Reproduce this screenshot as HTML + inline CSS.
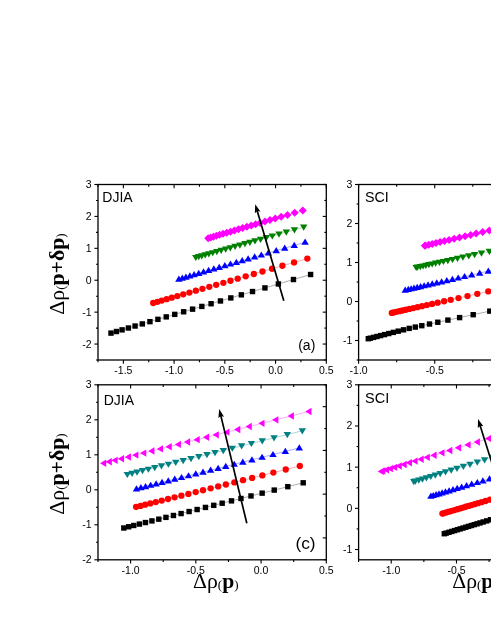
<!DOCTYPE html>
<html><head><meta charset="utf-8"><title>fig</title>
<style>
html,body{margin:0;padding:0;background:#fff;}
body{width:491px;height:635px;overflow:hidden;}
svg{display:block;will-change:transform;}
.tk{font-family:"Liberation Sans",sans-serif;font-size:10.5px;fill:#000;}
.lb{font-family:"Liberation Sans",sans-serif;font-size:14px;fill:#000;}
.ti{font-family:"Liberation Serif",serif;font-size:20.3px;fill:#000;}
.ti .b{font-weight:bold;}
.ti .pa{font-size:12.2px;}
</style></head><body>
<svg width="491" height="635" viewBox="0 0 491 635">
<rect width="491" height="635" fill="#fff"/>
<rect x="98.0" y="184.5" width="228.3" height="175.5" fill="none" stroke="#000" stroke-width="1.3"/><path d="M98.00 360.0v2.2M98.00 184.5v2.2" stroke="#000" stroke-width="1.1"/><path d="M123.37 360.0v3.8M123.37 184.5v3.8" stroke="#000" stroke-width="1.1"/><text x="123.37" y="374.2" text-anchor="middle" class="tk">-1.5</text><path d="M148.73 360.0v2.2M148.73 184.5v2.2" stroke="#000" stroke-width="1.1"/><path d="M174.10 360.0v3.8M174.10 184.5v3.8" stroke="#000" stroke-width="1.1"/><text x="174.10" y="374.2" text-anchor="middle" class="tk">-1.0</text><path d="M199.47 360.0v2.2M199.47 184.5v2.2" stroke="#000" stroke-width="1.1"/><path d="M224.83 360.0v3.8M224.83 184.5v3.8" stroke="#000" stroke-width="1.1"/><text x="224.83" y="374.2" text-anchor="middle" class="tk">-0.5</text><path d="M250.20 360.0v2.2M250.20 184.5v2.2" stroke="#000" stroke-width="1.1"/><path d="M275.57 360.0v3.8M275.57 184.5v3.8" stroke="#000" stroke-width="1.1"/><text x="275.57" y="374.2" text-anchor="middle" class="tk">0.0</text><path d="M300.93 360.0v2.2M300.93 184.5v2.2" stroke="#000" stroke-width="1.1"/><path d="M326.30 360.0v3.8M326.30 184.5v3.8" stroke="#000" stroke-width="1.1"/><text x="326.30" y="374.2" text-anchor="middle" class="tk">0.5</text><path d="M98.0 360.00h-2.0" stroke="#000" stroke-width="1.1"/><path d="M326.3 360.00h-2.0" stroke="#000" stroke-width="1.1"/><path d="M98.0 344.05h-3.6" stroke="#000" stroke-width="1.1"/><path d="M326.3 344.05h-3.6" stroke="#000" stroke-width="1.1"/><text x="91.7" y="347.55" text-anchor="end" class="tk">-2</text><path d="M98.0 328.09h-2.0" stroke="#000" stroke-width="1.1"/><path d="M326.3 328.09h-2.0" stroke="#000" stroke-width="1.1"/><path d="M98.0 312.14h-3.6" stroke="#000" stroke-width="1.1"/><path d="M326.3 312.14h-3.6" stroke="#000" stroke-width="1.1"/><text x="91.7" y="315.64" text-anchor="end" class="tk">-1</text><path d="M98.0 296.18h-2.0" stroke="#000" stroke-width="1.1"/><path d="M326.3 296.18h-2.0" stroke="#000" stroke-width="1.1"/><path d="M98.0 280.23h-3.6" stroke="#000" stroke-width="1.1"/><path d="M326.3 280.23h-3.6" stroke="#000" stroke-width="1.1"/><text x="91.7" y="283.73" text-anchor="end" class="tk">0</text><path d="M98.0 264.27h-2.0" stroke="#000" stroke-width="1.1"/><path d="M326.3 264.27h-2.0" stroke="#000" stroke-width="1.1"/><path d="M98.0 248.32h-3.6" stroke="#000" stroke-width="1.1"/><path d="M326.3 248.32h-3.6" stroke="#000" stroke-width="1.1"/><text x="91.7" y="251.82" text-anchor="end" class="tk">1</text><path d="M98.0 232.36h-2.0" stroke="#000" stroke-width="1.1"/><path d="M326.3 232.36h-2.0" stroke="#000" stroke-width="1.1"/><path d="M98.0 216.41h-3.6" stroke="#000" stroke-width="1.1"/><path d="M326.3 216.41h-3.6" stroke="#000" stroke-width="1.1"/><text x="91.7" y="219.91" text-anchor="end" class="tk">2</text><path d="M98.0 200.45h-2.0" stroke="#000" stroke-width="1.1"/><path d="M326.3 200.45h-2.0" stroke="#000" stroke-width="1.1"/><path d="M98.0 184.50h-3.6" stroke="#000" stroke-width="1.1"/><path d="M326.3 184.50h-3.6" stroke="#000" stroke-width="1.1"/><text x="91.7" y="188.00" text-anchor="end" class="tk">3</text><polyline fill="none" stroke="#000000" stroke-width="0.33" points="111.00,333.10 116.43,331.51 122.08,329.85 128.37,328.00 135.07,326.03 142.30,323.91 149.94,321.67 157.91,319.33 166.23,316.89 174.75,314.38 183.65,311.77 192.58,309.15 201.86,306.43 211.08,303.72 220.46,300.96 230.82,297.92 241.36,294.83 252.52,291.55 264.93,287.91 278.36,283.96 293.47,279.53 310.60,274.50"/><rect x="108.30" y="330.40" width="5.4" height="5.4" fill="#000000"/><rect x="113.73" y="328.81" width="5.4" height="5.4" fill="#000000"/><rect x="119.38" y="327.15" width="5.4" height="5.4" fill="#000000"/><rect x="125.67" y="325.30" width="5.4" height="5.4" fill="#000000"/><rect x="132.37" y="323.33" width="5.4" height="5.4" fill="#000000"/><rect x="139.60" y="321.21" width="5.4" height="5.4" fill="#000000"/><rect x="147.24" y="318.97" width="5.4" height="5.4" fill="#000000"/><rect x="155.21" y="316.63" width="5.4" height="5.4" fill="#000000"/><rect x="163.53" y="314.19" width="5.4" height="5.4" fill="#000000"/><rect x="172.05" y="311.68" width="5.4" height="5.4" fill="#000000"/><rect x="180.95" y="309.07" width="5.4" height="5.4" fill="#000000"/><rect x="189.88" y="306.45" width="5.4" height="5.4" fill="#000000"/><rect x="199.16" y="303.73" width="5.4" height="5.4" fill="#000000"/><rect x="208.38" y="301.02" width="5.4" height="5.4" fill="#000000"/><rect x="217.76" y="298.26" width="5.4" height="5.4" fill="#000000"/><rect x="228.12" y="295.22" width="5.4" height="5.4" fill="#000000"/><rect x="238.66" y="292.13" width="5.4" height="5.4" fill="#000000"/><rect x="249.82" y="288.85" width="5.4" height="5.4" fill="#000000"/><rect x="262.23" y="285.21" width="5.4" height="5.4" fill="#000000"/><rect x="275.66" y="281.26" width="5.4" height="5.4" fill="#000000"/><rect x="290.77" y="276.83" width="5.4" height="5.4" fill="#000000"/><rect x="307.90" y="271.80" width="5.4" height="5.4" fill="#000000"/><polyline fill="none" stroke="#ff0000" stroke-width="0.33" points="153.20,303.00 157.39,301.79 161.75,300.54 166.61,299.14 171.78,297.65 177.36,296.04 183.26,294.34 189.41,292.57 195.84,290.71 202.42,288.82 209.29,286.84 216.18,284.85 223.35,282.79 230.47,280.74 237.71,278.65 245.71,276.35 253.84,274.00 262.46,271.52 272.04,268.76 282.41,265.77 294.08,262.41 307.30,258.60"/><circle cx="153.20" cy="303.00" r="3.15" fill="#ff0000"/><circle cx="157.39" cy="301.79" r="3.15" fill="#ff0000"/><circle cx="161.75" cy="300.54" r="3.15" fill="#ff0000"/><circle cx="166.61" cy="299.14" r="3.15" fill="#ff0000"/><circle cx="171.78" cy="297.65" r="3.15" fill="#ff0000"/><circle cx="177.36" cy="296.04" r="3.15" fill="#ff0000"/><circle cx="183.26" cy="294.34" r="3.15" fill="#ff0000"/><circle cx="189.41" cy="292.57" r="3.15" fill="#ff0000"/><circle cx="195.84" cy="290.71" r="3.15" fill="#ff0000"/><circle cx="202.42" cy="288.82" r="3.15" fill="#ff0000"/><circle cx="209.29" cy="286.84" r="3.15" fill="#ff0000"/><circle cx="216.18" cy="284.85" r="3.15" fill="#ff0000"/><circle cx="223.35" cy="282.79" r="3.15" fill="#ff0000"/><circle cx="230.47" cy="280.74" r="3.15" fill="#ff0000"/><circle cx="237.71" cy="278.65" r="3.15" fill="#ff0000"/><circle cx="245.71" cy="276.35" r="3.15" fill="#ff0000"/><circle cx="253.84" cy="274.00" r="3.15" fill="#ff0000"/><circle cx="262.46" cy="271.52" r="3.15" fill="#ff0000"/><circle cx="272.04" cy="268.76" r="3.15" fill="#ff0000"/><circle cx="282.41" cy="265.77" r="3.15" fill="#ff0000"/><circle cx="294.08" cy="262.41" r="3.15" fill="#ff0000"/><circle cx="307.30" cy="258.60" r="3.15" fill="#ff0000"/><polyline fill="none" stroke="#0000ff" stroke-width="0.33" points="178.90,279.10 182.33,278.10 185.90,277.05 189.88,275.89 194.12,274.65 198.69,273.31 203.52,271.90 208.56,270.43 213.82,268.89 219.21,267.31 224.84,265.67 230.48,264.02 236.35,262.30 242.18,260.60 248.11,258.86 254.66,256.95 261.32,255.00 268.38,252.94 276.23,250.64 284.72,248.16 294.27,245.37 305.10,242.20"/><path d="M175.20 281.70L182.60 281.70L178.90 275.50Z" fill="#0000ff"/><path d="M178.63 280.70L186.03 280.70L182.33 274.50Z" fill="#0000ff"/><path d="M182.20 279.66L189.60 279.66L185.90 273.46Z" fill="#0000ff"/><path d="M186.18 278.49L193.58 278.49L189.88 272.29Z" fill="#0000ff"/><path d="M190.42 277.25L197.82 277.25L194.12 271.05Z" fill="#0000ff"/><path d="M194.99 275.92L202.39 275.92L198.69 269.72Z" fill="#0000ff"/><path d="M199.82 274.50L207.22 274.50L203.52 268.30Z" fill="#0000ff"/><path d="M204.86 273.03L212.26 273.03L208.56 266.83Z" fill="#0000ff"/><path d="M210.12 271.49L217.52 271.49L213.82 265.29Z" fill="#0000ff"/><path d="M215.51 269.92L222.91 269.92L219.21 263.72Z" fill="#0000ff"/><path d="M221.14 268.27L228.54 268.27L224.84 262.07Z" fill="#0000ff"/><path d="M226.78 266.62L234.18 266.62L230.48 260.42Z" fill="#0000ff"/><path d="M232.65 264.91L240.05 264.91L236.35 258.71Z" fill="#0000ff"/><path d="M238.48 263.20L245.88 263.20L242.18 257.00Z" fill="#0000ff"/><path d="M244.41 261.47L251.81 261.47L248.11 255.27Z" fill="#0000ff"/><path d="M250.96 259.55L258.36 259.55L254.66 253.35Z" fill="#0000ff"/><path d="M257.62 257.60L265.02 257.60L261.32 251.40Z" fill="#0000ff"/><path d="M264.68 255.54L272.08 255.54L268.38 249.34Z" fill="#0000ff"/><path d="M272.53 253.25L279.93 253.25L276.23 247.05Z" fill="#0000ff"/><path d="M281.02 250.76L288.42 250.76L284.72 244.56Z" fill="#0000ff"/><path d="M290.57 247.97L297.97 247.97L294.27 241.77Z" fill="#0000ff"/><path d="M301.40 244.80L308.80 244.80L305.10 238.60Z" fill="#0000ff"/><polyline fill="none" stroke="#008000" stroke-width="0.33" points="195.80,257.50 198.73,256.68 201.79,255.82 205.19,254.86 208.81,253.85 212.72,252.75 216.85,251.59 221.16,250.38 225.66,249.12 230.26,247.82 235.08,246.47 239.90,245.12 244.92,243.71 249.90,242.31 254.97,240.88 260.57,239.31 266.27,237.71 272.30,236.02 279.01,234.13 286.27,232.09 294.44,229.80 303.70,227.20"/><path d="M192.10 254.90L199.50 254.90L195.80 261.10Z" fill="#008000"/><path d="M195.03 254.07L202.43 254.07L198.73 260.27Z" fill="#008000"/><path d="M198.09 253.21L205.49 253.21L201.79 259.41Z" fill="#008000"/><path d="M201.49 252.26L208.89 252.26L205.19 258.46Z" fill="#008000"/><path d="M205.11 251.24L212.51 251.24L208.81 257.44Z" fill="#008000"/><path d="M209.02 250.14L216.42 250.14L212.72 256.34Z" fill="#008000"/><path d="M213.15 248.98L220.55 248.98L216.85 255.18Z" fill="#008000"/><path d="M217.46 247.78L224.86 247.78L221.16 253.98Z" fill="#008000"/><path d="M221.96 246.51L229.36 246.51L225.66 252.71Z" fill="#008000"/><path d="M226.56 245.22L233.96 245.22L230.26 251.42Z" fill="#008000"/><path d="M231.38 243.87L238.78 243.87L235.08 250.07Z" fill="#008000"/><path d="M236.20 242.51L243.60 242.51L239.90 248.71Z" fill="#008000"/><path d="M241.22 241.10L248.62 241.10L244.92 247.30Z" fill="#008000"/><path d="M246.20 239.70L253.60 239.70L249.90 245.90Z" fill="#008000"/><path d="M251.27 238.28L258.67 238.28L254.97 244.48Z" fill="#008000"/><path d="M256.87 236.71L264.27 236.71L260.57 242.91Z" fill="#008000"/><path d="M262.57 235.11L269.97 235.11L266.27 241.31Z" fill="#008000"/><path d="M268.60 233.41L276.00 233.41L272.30 239.61Z" fill="#008000"/><path d="M275.31 231.53L282.71 231.53L279.01 237.73Z" fill="#008000"/><path d="M282.57 229.49L289.97 229.49L286.27 235.69Z" fill="#008000"/><path d="M290.74 227.20L298.14 227.20L294.44 233.40Z" fill="#008000"/><path d="M300.00 224.60L307.40 224.60L303.70 230.80Z" fill="#008000"/><polyline fill="none" stroke="#ff00ff" stroke-width="0.33" points="208.20,238.20 210.77,237.44 213.45,236.66 216.43,235.78 219.61,234.85 223.03,233.84 226.66,232.78 230.43,231.67 234.38,230.51 238.42,229.32 242.63,228.08 246.86,226.84 251.26,225.55 255.63,224.26 260.08,222.95 264.99,221.51 269.98,220.04 275.27,218.49 281.16,216.76 287.52,214.89 294.68,212.79 302.80,210.40"/><path d="M204.20 238.20L208.20 234.20L212.20 238.20L208.20 242.20Z" fill="#ff00ff"/><path d="M206.77 237.44L210.77 233.44L214.77 237.44L210.77 241.44Z" fill="#ff00ff"/><path d="M209.45 236.66L213.45 232.66L217.45 236.66L213.45 240.66Z" fill="#ff00ff"/><path d="M212.43 235.78L216.43 231.78L220.43 235.78L216.43 239.78Z" fill="#ff00ff"/><path d="M215.61 234.85L219.61 230.85L223.61 234.85L219.61 238.85Z" fill="#ff00ff"/><path d="M219.03 233.84L223.03 229.84L227.03 233.84L223.03 237.84Z" fill="#ff00ff"/><path d="M222.66 232.78L226.66 228.78L230.66 232.78L226.66 236.78Z" fill="#ff00ff"/><path d="M226.43 231.67L230.43 227.67L234.43 231.67L230.43 235.67Z" fill="#ff00ff"/><path d="M230.38 230.51L234.38 226.51L238.38 230.51L234.38 234.51Z" fill="#ff00ff"/><path d="M234.42 229.32L238.42 225.32L242.42 229.32L238.42 233.32Z" fill="#ff00ff"/><path d="M238.63 228.08L242.63 224.08L246.63 228.08L242.63 232.08Z" fill="#ff00ff"/><path d="M242.86 226.84L246.86 222.84L250.86 226.84L246.86 230.84Z" fill="#ff00ff"/><path d="M247.26 225.55L251.26 221.55L255.26 225.55L251.26 229.55Z" fill="#ff00ff"/><path d="M251.63 224.26L255.63 220.26L259.63 224.26L255.63 228.26Z" fill="#ff00ff"/><path d="M256.08 222.95L260.08 218.95L264.08 222.95L260.08 226.95Z" fill="#ff00ff"/><path d="M260.99 221.51L264.99 217.51L268.99 221.51L264.99 225.51Z" fill="#ff00ff"/><path d="M265.98 220.04L269.98 216.04L273.98 220.04L269.98 224.04Z" fill="#ff00ff"/><path d="M271.27 218.49L275.27 214.49L279.27 218.49L275.27 222.49Z" fill="#ff00ff"/><path d="M277.16 216.76L281.16 212.76L285.16 216.76L281.16 220.76Z" fill="#ff00ff"/><path d="M283.52 214.89L287.52 210.89L291.52 214.89L287.52 218.89Z" fill="#ff00ff"/><path d="M290.68 212.79L294.68 208.79L298.68 212.79L294.68 216.79Z" fill="#ff00ff"/><path d="M298.80 210.40L302.80 206.40L306.80 210.40L302.80 214.40Z" fill="#ff00ff"/><path d="M283.80 300.70L257.08 210.53" stroke="#000" stroke-width="1.7" fill="none"/><path d="M255.20 204.20L260.42 211.62L257.22 211.01L254.86 213.27Z" fill="#000"/><text x="102.3" y="201.9" class="lb">DJIA</text><text x="298.2" y="349.5" class="lb">(a)</text><rect x="98.0" y="384.8" width="228.3" height="174.99999999999994" fill="none" stroke="#000" stroke-width="1.3"/><path d="M98.00 559.8v2.2M98.00 384.8v2.2" stroke="#000" stroke-width="1.1"/><path d="M130.61 559.8v3.8M130.61 384.8v3.8" stroke="#000" stroke-width="1.1"/><text x="130.61" y="574.0" text-anchor="middle" class="tk">-1.0</text><path d="M163.23 559.8v2.2M163.23 384.8v2.2" stroke="#000" stroke-width="1.1"/><path d="M195.84 559.8v3.8M195.84 384.8v3.8" stroke="#000" stroke-width="1.1"/><text x="195.84" y="574.0" text-anchor="middle" class="tk">-0.5</text><path d="M228.46 559.8v2.2M228.46 384.8v2.2" stroke="#000" stroke-width="1.1"/><path d="M261.07 559.8v3.8M261.07 384.8v3.8" stroke="#000" stroke-width="1.1"/><text x="261.07" y="574.0" text-anchor="middle" class="tk">0.0</text><path d="M293.69 559.8v2.2M293.69 384.8v2.2" stroke="#000" stroke-width="1.1"/><path d="M326.30 559.8v3.8M326.30 384.8v3.8" stroke="#000" stroke-width="1.1"/><text x="326.30" y="574.0" text-anchor="middle" class="tk">0.5</text><path d="M98.0 559.80h-3.6" stroke="#000" stroke-width="1.1"/><text x="91.7" y="563.30" text-anchor="end" class="tk">-2</text><path d="M98.0 542.30h-2.0" stroke="#000" stroke-width="1.1"/><path d="M98.0 524.80h-3.6" stroke="#000" stroke-width="1.1"/><text x="91.7" y="528.30" text-anchor="end" class="tk">-1</text><path d="M98.0 507.30h-2.0" stroke="#000" stroke-width="1.1"/><path d="M98.0 489.80h-3.6" stroke="#000" stroke-width="1.1"/><text x="91.7" y="493.30" text-anchor="end" class="tk">0</text><path d="M98.0 472.30h-2.0" stroke="#000" stroke-width="1.1"/><path d="M98.0 454.80h-3.6" stroke="#000" stroke-width="1.1"/><text x="91.7" y="458.30" text-anchor="end" class="tk">1</text><path d="M98.0 437.30h-2.0" stroke="#000" stroke-width="1.1"/><path d="M98.0 419.80h-3.6" stroke="#000" stroke-width="1.1"/><text x="91.7" y="423.30" text-anchor="end" class="tk">2</text><path d="M98.0 402.30h-2.0" stroke="#000" stroke-width="1.1"/><path d="M98.0 384.80h-3.6" stroke="#000" stroke-width="1.1"/><text x="91.7" y="388.30" text-anchor="end" class="tk">3</text><path d="M326.3 384.80h-2.0" stroke="#000" stroke-width="1.1"/><path d="M326.3 406.68h-3.6" stroke="#000" stroke-width="1.1"/><path d="M326.3 428.55h-2.0" stroke="#000" stroke-width="1.1"/><path d="M326.3 450.42h-3.6" stroke="#000" stroke-width="1.1"/><path d="M326.3 472.30h-2.0" stroke="#000" stroke-width="1.1"/><path d="M326.3 494.17h-3.6" stroke="#000" stroke-width="1.1"/><path d="M326.3 516.05h-2.0" stroke="#000" stroke-width="1.1"/><path d="M326.3 537.92h-3.6" stroke="#000" stroke-width="1.1"/><path d="M326.3 559.80h-2.0" stroke="#000" stroke-width="1.1"/><polyline fill="none" stroke="#000000" stroke-width="0.33" points="123.80,528.00 128.68,526.77 133.76,525.49 139.41,524.07 145.44,522.55 151.93,520.91 158.80,519.18 165.96,517.38 173.44,515.49 181.10,513.56 189.10,511.55 197.12,509.53 205.46,507.42 213.75,505.34 222.18,503.21 231.49,500.87 240.97,498.48 250.99,495.95 262.15,493.14 274.23,490.10 287.81,486.68 303.20,482.80"/><rect x="121.10" y="525.30" width="5.4" height="5.4" fill="#000000"/><rect x="125.98" y="524.07" width="5.4" height="5.4" fill="#000000"/><rect x="131.06" y="522.79" width="5.4" height="5.4" fill="#000000"/><rect x="136.71" y="521.37" width="5.4" height="5.4" fill="#000000"/><rect x="142.74" y="519.85" width="5.4" height="5.4" fill="#000000"/><rect x="149.23" y="518.21" width="5.4" height="5.4" fill="#000000"/><rect x="156.10" y="516.48" width="5.4" height="5.4" fill="#000000"/><rect x="163.26" y="514.68" width="5.4" height="5.4" fill="#000000"/><rect x="170.74" y="512.79" width="5.4" height="5.4" fill="#000000"/><rect x="178.40" y="510.86" width="5.4" height="5.4" fill="#000000"/><rect x="186.40" y="508.85" width="5.4" height="5.4" fill="#000000"/><rect x="194.42" y="506.83" width="5.4" height="5.4" fill="#000000"/><rect x="202.76" y="504.72" width="5.4" height="5.4" fill="#000000"/><rect x="211.05" y="502.64" width="5.4" height="5.4" fill="#000000"/><rect x="219.48" y="500.51" width="5.4" height="5.4" fill="#000000"/><rect x="228.79" y="498.17" width="5.4" height="5.4" fill="#000000"/><rect x="238.27" y="495.78" width="5.4" height="5.4" fill="#000000"/><rect x="248.29" y="493.25" width="5.4" height="5.4" fill="#000000"/><rect x="259.45" y="490.44" width="5.4" height="5.4" fill="#000000"/><rect x="271.53" y="487.40" width="5.4" height="5.4" fill="#000000"/><rect x="285.11" y="483.98" width="5.4" height="5.4" fill="#000000"/><rect x="300.50" y="480.10" width="5.4" height="5.4" fill="#000000"/><polyline fill="none" stroke="#ff0000" stroke-width="0.33" points="136.10,507.00 140.55,505.88 145.19,504.72 150.34,503.43 155.84,502.06 161.77,500.57 168.04,499.00 174.57,497.37 181.40,495.66 188.39,493.90 195.69,492.08 203.00,490.24 210.62,488.34 218.18,486.44 225.87,484.52 234.37,482.39 243.01,480.22 252.16,477.93 262.35,475.38 273.36,472.62 285.75,469.52 299.80,466.00"/><circle cx="136.10" cy="507.00" r="3.15" fill="#ff0000"/><circle cx="140.55" cy="505.88" r="3.15" fill="#ff0000"/><circle cx="145.19" cy="504.72" r="3.15" fill="#ff0000"/><circle cx="150.34" cy="503.43" r="3.15" fill="#ff0000"/><circle cx="155.84" cy="502.06" r="3.15" fill="#ff0000"/><circle cx="161.77" cy="500.57" r="3.15" fill="#ff0000"/><circle cx="168.04" cy="499.00" r="3.15" fill="#ff0000"/><circle cx="174.57" cy="497.37" r="3.15" fill="#ff0000"/><circle cx="181.40" cy="495.66" r="3.15" fill="#ff0000"/><circle cx="188.39" cy="493.90" r="3.15" fill="#ff0000"/><circle cx="195.69" cy="492.08" r="3.15" fill="#ff0000"/><circle cx="203.00" cy="490.24" r="3.15" fill="#ff0000"/><circle cx="210.62" cy="488.34" r="3.15" fill="#ff0000"/><circle cx="218.18" cy="486.44" r="3.15" fill="#ff0000"/><circle cx="225.87" cy="484.52" r="3.15" fill="#ff0000"/><circle cx="234.37" cy="482.39" r="3.15" fill="#ff0000"/><circle cx="243.01" cy="480.22" r="3.15" fill="#ff0000"/><circle cx="252.16" cy="477.93" r="3.15" fill="#ff0000"/><circle cx="262.35" cy="475.38" r="3.15" fill="#ff0000"/><circle cx="273.36" cy="472.62" r="3.15" fill="#ff0000"/><circle cx="285.75" cy="469.52" r="3.15" fill="#ff0000"/><circle cx="299.80" cy="466.00" r="3.15" fill="#ff0000"/><polyline fill="none" stroke="#0000ff" stroke-width="0.33" points="136.50,488.80 140.93,487.69 145.54,486.53 150.66,485.24 156.13,483.87 162.03,482.39 168.26,480.82 174.76,479.19 181.55,477.48 188.50,475.74 195.76,473.91 203.04,472.08 210.61,470.18 218.13,468.29 225.78,466.37 234.23,464.25 242.82,462.09 251.93,459.80 262.05,457.26 273.01,454.51 285.33,451.41 299.30,447.90"/><path d="M132.80 491.40L140.20 491.40L136.50 485.20Z" fill="#0000ff"/><path d="M137.23 490.29L144.63 490.29L140.93 484.09Z" fill="#0000ff"/><path d="M141.84 489.13L149.24 489.13L145.54 482.93Z" fill="#0000ff"/><path d="M146.96 487.85L154.36 487.85L150.66 481.65Z" fill="#0000ff"/><path d="M152.43 486.47L159.83 486.47L156.13 480.27Z" fill="#0000ff"/><path d="M158.33 484.99L165.73 484.99L162.03 478.79Z" fill="#0000ff"/><path d="M164.56 483.42L171.96 483.42L168.26 477.22Z" fill="#0000ff"/><path d="M171.06 481.79L178.46 481.79L174.76 475.59Z" fill="#0000ff"/><path d="M177.85 480.09L185.25 480.09L181.55 473.89Z" fill="#0000ff"/><path d="M184.80 478.34L192.20 478.34L188.50 472.14Z" fill="#0000ff"/><path d="M192.06 476.52L199.46 476.52L195.76 470.32Z" fill="#0000ff"/><path d="M199.34 474.69L206.74 474.69L203.04 468.49Z" fill="#0000ff"/><path d="M206.91 472.79L214.31 472.79L210.61 466.59Z" fill="#0000ff"/><path d="M214.43 470.90L221.83 470.90L218.13 464.70Z" fill="#0000ff"/><path d="M222.08 468.97L229.48 468.97L225.78 462.77Z" fill="#0000ff"/><path d="M230.53 466.85L237.93 466.85L234.23 460.65Z" fill="#0000ff"/><path d="M239.12 464.69L246.52 464.69L242.82 458.49Z" fill="#0000ff"/><path d="M248.23 462.41L255.63 462.41L251.93 456.21Z" fill="#0000ff"/><path d="M258.35 459.86L265.75 459.86L262.05 453.66Z" fill="#0000ff"/><path d="M269.31 457.11L276.71 457.11L273.01 450.91Z" fill="#0000ff"/><path d="M281.63 454.01L289.03 454.01L285.33 447.81Z" fill="#0000ff"/><path d="M295.60 450.50L303.00 450.50L299.30 444.30Z" fill="#0000ff"/><polyline fill="none" stroke="#008080" stroke-width="0.33" points="127.30,474.50 132.06,473.31 137.01,472.07 142.53,470.70 148.41,469.23 154.74,467.65 161.44,465.97 168.43,464.23 175.72,462.41 183.19,460.54 191.00,458.59 198.82,456.64 206.96,454.61 215.04,452.59 223.27,450.53 232.35,448.27 241.59,445.96 251.38,443.52 262.26,440.80 274.04,437.86 287.29,434.55 302.30,430.80"/><path d="M123.60 471.90L131.00 471.90L127.30 478.10Z" fill="#008080"/><path d="M128.36 470.71L135.76 470.71L132.06 476.91Z" fill="#008080"/><path d="M133.31 469.47L140.71 469.47L137.01 475.67Z" fill="#008080"/><path d="M138.83 468.09L146.22 468.09L142.53 474.29Z" fill="#008080"/><path d="M144.71 466.63L152.10 466.63L148.41 472.83Z" fill="#008080"/><path d="M151.04 465.04L158.44 465.04L154.74 471.24Z" fill="#008080"/><path d="M157.74 463.37L165.14 463.37L161.44 469.57Z" fill="#008080"/><path d="M164.73 461.63L172.12 461.63L168.43 467.83Z" fill="#008080"/><path d="M172.02 459.80L179.42 459.80L175.72 466.00Z" fill="#008080"/><path d="M179.50 457.94L186.89 457.94L183.19 464.14Z" fill="#008080"/><path d="M187.30 455.99L194.70 455.99L191.00 462.19Z" fill="#008080"/><path d="M195.12 454.04L202.52 454.04L198.82 460.24Z" fill="#008080"/><path d="M203.26 452.00L210.66 452.00L206.96 458.20Z" fill="#008080"/><path d="M211.34 449.98L218.74 449.98L215.04 456.18Z" fill="#008080"/><path d="M219.57 447.93L226.97 447.93L223.27 454.13Z" fill="#008080"/><path d="M228.65 445.66L236.05 445.66L232.35 451.86Z" fill="#008080"/><path d="M237.89 443.36L245.29 443.36L241.59 449.56Z" fill="#008080"/><path d="M247.68 440.91L255.07 440.91L251.38 447.11Z" fill="#008080"/><path d="M258.56 438.19L265.96 438.19L262.26 444.39Z" fill="#008080"/><path d="M270.34 435.25L277.74 435.25L274.04 441.45Z" fill="#008080"/><path d="M283.59 431.95L290.99 431.95L287.29 438.15Z" fill="#008080"/><path d="M298.60 428.20L306.00 428.20L302.30 434.40Z" fill="#008080"/><polyline fill="none" stroke="#ff00ff" stroke-width="0.33" points="103.60,463.20 109.18,461.79 114.99,460.33 121.46,458.70 128.36,456.96 135.79,455.09 143.65,453.11 151.85,451.05 160.41,448.89 169.17,446.69 178.33,444.38 187.51,442.07 197.05,439.67 206.54,437.28 216.19,434.85 226.84,432.16 237.68,429.43 249.16,426.54 261.93,423.33 275.74,419.85 291.29,415.94 308.90,411.50"/><path d="M106.20 459.50L106.20 466.90L100.00 463.20Z" fill="#ff00ff"/><path d="M111.79 458.09L111.79 465.49L105.59 461.79Z" fill="#ff00ff"/><path d="M117.60 456.63L117.60 464.03L111.40 460.33Z" fill="#ff00ff"/><path d="M124.07 455.00L124.07 462.40L117.87 458.70Z" fill="#ff00ff"/><path d="M130.96 453.26L130.96 460.66L124.76 456.96Z" fill="#ff00ff"/><path d="M138.40 451.39L138.40 458.79L132.20 455.09Z" fill="#ff00ff"/><path d="M146.26 449.41L146.26 456.81L140.06 453.11Z" fill="#ff00ff"/><path d="M154.45 447.35L154.45 454.75L148.25 451.05Z" fill="#ff00ff"/><path d="M163.01 445.19L163.01 452.59L156.81 448.89Z" fill="#ff00ff"/><path d="M171.78 442.99L171.78 450.39L165.58 446.69Z" fill="#ff00ff"/><path d="M180.93 440.68L180.93 448.08L174.73 444.38Z" fill="#ff00ff"/><path d="M190.11 438.37L190.11 445.77L183.91 442.07Z" fill="#ff00ff"/><path d="M199.66 435.97L199.66 443.37L193.46 439.67Z" fill="#ff00ff"/><path d="M209.14 433.58L209.14 440.98L202.94 437.28Z" fill="#ff00ff"/><path d="M218.79 431.15L218.79 438.55L212.59 434.85Z" fill="#ff00ff"/><path d="M229.45 428.46L229.45 435.86L223.25 432.16Z" fill="#ff00ff"/><path d="M240.29 425.73L240.29 433.13L234.09 429.43Z" fill="#ff00ff"/><path d="M251.76 422.84L251.76 430.24L245.56 426.54Z" fill="#ff00ff"/><path d="M264.53 419.63L264.53 427.03L258.33 423.33Z" fill="#ff00ff"/><path d="M278.35 416.15L278.35 423.55L272.15 419.85Z" fill="#ff00ff"/><path d="M293.89 412.24L293.89 419.64L287.69 415.94Z" fill="#ff00ff"/><path d="M311.50 407.80L311.50 415.20L305.30 411.50Z" fill="#ff00ff"/><path d="M246.80 523.30L220.75 415.42" stroke="#000" stroke-width="1.7" fill="none"/><path d="M219.20 409.00L224.04 416.68L220.87 415.90L218.40 418.04Z" fill="#000"/><text x="103.7" y="405.3" class="lb">DJIA</text><text x="295.4" y="549.0" class="lb" style="font-size:17.3px">(c)</text><rect x="358.6" y="184.5" width="228.39999999999998" height="175.5" fill="none" stroke="#000" stroke-width="1.3"/><path d="M358.60 360.0v3.8M358.60 184.5v3.8" stroke="#000" stroke-width="1.1"/><text x="358.60" y="374.2" text-anchor="middle" class="tk">-1.0</text><path d="M396.67 360.0v2.2M396.67 184.5v2.2" stroke="#000" stroke-width="1.1"/><path d="M434.73 360.0v3.8M434.73 184.5v3.8" stroke="#000" stroke-width="1.1"/><text x="434.73" y="374.2" text-anchor="middle" class="tk">-0.5</text><path d="M472.80 360.0v2.2M472.80 184.5v2.2" stroke="#000" stroke-width="1.1"/><path d="M510.87 360.0v3.8M510.87 184.5v3.8" stroke="#000" stroke-width="1.1"/><text x="510.87" y="374.2" text-anchor="middle" class="tk">0.0</text><path d="M548.93 360.0v2.2M548.93 184.5v2.2" stroke="#000" stroke-width="1.1"/><path d="M587.00 360.0v3.8M587.00 184.5v3.8" stroke="#000" stroke-width="1.1"/><text x="587.00" y="374.2" text-anchor="middle" class="tk">0.5</text><path d="M358.6 360.00h-2.0" stroke="#000" stroke-width="1.1"/><path d="M587.0 360.00h-2.0" stroke="#000" stroke-width="1.1"/><path d="M358.6 340.50h-3.6" stroke="#000" stroke-width="1.1"/><path d="M587.0 340.50h-3.6" stroke="#000" stroke-width="1.1"/><text x="352.3" y="344.00" text-anchor="end" class="tk">-1</text><path d="M358.6 321.00h-2.0" stroke="#000" stroke-width="1.1"/><path d="M587.0 321.00h-2.0" stroke="#000" stroke-width="1.1"/><path d="M358.6 301.50h-3.6" stroke="#000" stroke-width="1.1"/><path d="M587.0 301.50h-3.6" stroke="#000" stroke-width="1.1"/><text x="352.3" y="305.00" text-anchor="end" class="tk">0</text><path d="M358.6 282.00h-2.0" stroke="#000" stroke-width="1.1"/><path d="M587.0 282.00h-2.0" stroke="#000" stroke-width="1.1"/><path d="M358.6 262.50h-3.6" stroke="#000" stroke-width="1.1"/><path d="M587.0 262.50h-3.6" stroke="#000" stroke-width="1.1"/><text x="352.3" y="266.00" text-anchor="end" class="tk">1</text><path d="M358.6 243.00h-2.0" stroke="#000" stroke-width="1.1"/><path d="M587.0 243.00h-2.0" stroke="#000" stroke-width="1.1"/><path d="M358.6 223.50h-3.6" stroke="#000" stroke-width="1.1"/><path d="M587.0 223.50h-3.6" stroke="#000" stroke-width="1.1"/><text x="352.3" y="227.00" text-anchor="end" class="tk">2</text><path d="M358.6 204.00h-2.0" stroke="#000" stroke-width="1.1"/><path d="M587.0 204.00h-2.0" stroke="#000" stroke-width="1.1"/><path d="M358.6 184.50h-3.6" stroke="#000" stroke-width="1.1"/><path d="M587.0 184.50h-3.6" stroke="#000" stroke-width="1.1"/><text x="352.3" y="188.00" text-anchor="end" class="tk">3</text><polyline fill="none" stroke="#000000" stroke-width="0.33" points="368.30,338.70 370.33,338.19 373.51,337.39 376.92,336.53 380.59,335.60 384.54,334.61 388.78,333.54 393.34,332.39 398.25,331.16 403.53,329.83 409.20,328.40 415.30,327.08 421.80,325.69 429.50,324.04 437.80,322.26 447.90,320.10 459.60,317.60 473.20,314.69 489.80,311.14 509.22,306.98"/><rect x="365.60" y="336.00" width="5.4" height="5.4" fill="#000000"/><rect x="367.63" y="335.49" width="5.4" height="5.4" fill="#000000"/><rect x="370.81" y="334.69" width="5.4" height="5.4" fill="#000000"/><rect x="374.22" y="333.83" width="5.4" height="5.4" fill="#000000"/><rect x="377.89" y="332.90" width="5.4" height="5.4" fill="#000000"/><rect x="381.84" y="331.91" width="5.4" height="5.4" fill="#000000"/><rect x="386.08" y="330.84" width="5.4" height="5.4" fill="#000000"/><rect x="390.64" y="329.69" width="5.4" height="5.4" fill="#000000"/><rect x="395.55" y="328.46" width="5.4" height="5.4" fill="#000000"/><rect x="400.83" y="327.13" width="5.4" height="5.4" fill="#000000"/><rect x="406.50" y="325.70" width="5.4" height="5.4" fill="#000000"/><rect x="412.60" y="324.38" width="5.4" height="5.4" fill="#000000"/><rect x="419.10" y="322.99" width="5.4" height="5.4" fill="#000000"/><rect x="426.80" y="321.34" width="5.4" height="5.4" fill="#000000"/><rect x="435.10" y="319.56" width="5.4" height="5.4" fill="#000000"/><rect x="445.20" y="317.40" width="5.4" height="5.4" fill="#000000"/><rect x="456.90" y="314.90" width="5.4" height="5.4" fill="#000000"/><rect x="470.50" y="311.99" width="5.4" height="5.4" fill="#000000"/><rect x="487.10" y="308.44" width="5.4" height="5.4" fill="#000000"/><rect x="506.52" y="304.28" width="5.4" height="5.4" fill="#000000"/><polyline fill="none" stroke="#ff0000" stroke-width="0.33" points="391.80,312.90 393.62,312.49 396.42,311.87 399.33,311.22 402.47,310.52 405.84,309.77 409.46,308.97 413.36,308.10 417.54,307.16 422.05,306.16 426.89,305.08 432.10,303.92 437.70,302.67 444.10,301.25 450.70,299.78 458.50,298.04 467.50,296.03 477.30,293.85 488.30,291.40 501.17,288.53"/><circle cx="391.80" cy="312.90" r="3.15" fill="#ff0000"/><circle cx="393.62" cy="312.49" r="3.15" fill="#ff0000"/><circle cx="396.42" cy="311.87" r="3.15" fill="#ff0000"/><circle cx="399.33" cy="311.22" r="3.15" fill="#ff0000"/><circle cx="402.47" cy="310.52" r="3.15" fill="#ff0000"/><circle cx="405.84" cy="309.77" r="3.15" fill="#ff0000"/><circle cx="409.46" cy="308.97" r="3.15" fill="#ff0000"/><circle cx="413.36" cy="308.10" r="3.15" fill="#ff0000"/><circle cx="417.54" cy="307.16" r="3.15" fill="#ff0000"/><circle cx="422.05" cy="306.16" r="3.15" fill="#ff0000"/><circle cx="426.89" cy="305.08" r="3.15" fill="#ff0000"/><circle cx="432.10" cy="303.92" r="3.15" fill="#ff0000"/><circle cx="437.70" cy="302.67" r="3.15" fill="#ff0000"/><circle cx="444.10" cy="301.25" r="3.15" fill="#ff0000"/><circle cx="450.70" cy="299.78" r="3.15" fill="#ff0000"/><circle cx="458.50" cy="298.04" r="3.15" fill="#ff0000"/><circle cx="467.50" cy="296.03" r="3.15" fill="#ff0000"/><circle cx="477.30" cy="293.85" r="3.15" fill="#ff0000"/><circle cx="488.30" cy="291.40" r="3.15" fill="#ff0000"/><circle cx="501.17" cy="288.53" r="3.15" fill="#ff0000"/><polyline fill="none" stroke="#0000ff" stroke-width="0.33" points="405.20,290.10 408.32,289.39 411.12,288.75 414.03,288.08 417.17,287.36 420.54,286.59 424.16,285.77 428.06,284.87 432.24,283.92 436.75,282.89 441.59,281.78 446.80,280.59 452.40,279.31 458.20,277.98 464.60,276.52 471.70,274.90 479.70,273.07 488.30,271.10 498.36,268.80 510.13,266.11"/><path d="M401.50 292.70L408.90 292.70L405.20 286.50Z" fill="#0000ff"/><path d="M404.62 291.99L412.02 291.99L408.32 285.79Z" fill="#0000ff"/><path d="M407.42 291.35L414.82 291.35L411.12 285.15Z" fill="#0000ff"/><path d="M410.33 290.68L417.73 290.68L414.03 284.48Z" fill="#0000ff"/><path d="M413.47 289.97L420.87 289.97L417.17 283.77Z" fill="#0000ff"/><path d="M416.84 289.20L424.24 289.20L420.54 283.00Z" fill="#0000ff"/><path d="M420.46 288.37L427.86 288.37L424.16 282.17Z" fill="#0000ff"/><path d="M424.36 287.48L431.76 287.48L428.06 281.28Z" fill="#0000ff"/><path d="M428.54 286.52L435.94 286.52L432.24 280.32Z" fill="#0000ff"/><path d="M433.05 285.49L440.45 285.49L436.75 279.29Z" fill="#0000ff"/><path d="M437.89 284.38L445.29 284.38L441.59 278.18Z" fill="#0000ff"/><path d="M443.10 283.19L450.50 283.19L446.80 276.99Z" fill="#0000ff"/><path d="M448.70 281.91L456.10 281.91L452.40 275.71Z" fill="#0000ff"/><path d="M454.50 280.59L461.90 280.59L458.20 274.39Z" fill="#0000ff"/><path d="M460.90 279.12L468.30 279.12L464.60 272.92Z" fill="#0000ff"/><path d="M468.00 277.50L475.40 277.50L471.70 271.30Z" fill="#0000ff"/><path d="M476.00 275.67L483.40 275.67L479.70 269.47Z" fill="#0000ff"/><path d="M484.60 273.70L492.00 273.70L488.30 267.50Z" fill="#0000ff"/><path d="M494.66 271.40L502.06 271.40L498.36 265.20Z" fill="#0000ff"/><path d="M506.43 268.71L513.83 268.71L510.13 262.51Z" fill="#0000ff"/><polyline fill="none" stroke="#008000" stroke-width="0.33" points="416.20,267.50 417.49,267.22 420.29,266.60 423.09,265.98 425.90,265.36 428.92,264.70 432.17,263.98 435.67,263.21 439.42,262.38 443.46,261.50 447.81,260.54 452.48,259.51 457.50,258.40 462.90,257.21 468.80,255.92 474.60,254.64 481.50,253.12 489.30,251.40 498.43,249.39 509.10,247.04"/><path d="M412.50 264.90L419.90 264.90L416.20 271.10Z" fill="#008000"/><path d="M413.79 264.61L421.19 264.61L417.49 270.81Z" fill="#008000"/><path d="M416.59 263.99L423.99 263.99L420.29 270.19Z" fill="#008000"/><path d="M419.39 263.38L426.79 263.38L423.09 269.58Z" fill="#008000"/><path d="M422.20 262.76L429.60 262.76L425.90 268.96Z" fill="#008000"/><path d="M425.22 262.09L432.62 262.09L428.92 268.29Z" fill="#008000"/><path d="M428.47 261.38L435.87 261.38L432.17 267.58Z" fill="#008000"/><path d="M431.97 260.61L439.37 260.61L435.67 266.81Z" fill="#008000"/><path d="M435.72 259.78L443.12 259.78L439.42 265.98Z" fill="#008000"/><path d="M439.76 258.89L447.16 258.89L443.46 265.09Z" fill="#008000"/><path d="M444.11 257.93L451.51 257.93L447.81 264.13Z" fill="#008000"/><path d="M448.78 256.91L456.18 256.91L452.48 263.11Z" fill="#008000"/><path d="M453.80 255.80L461.20 255.80L457.50 262.00Z" fill="#008000"/><path d="M459.20 254.61L466.60 254.61L462.90 260.81Z" fill="#008000"/><path d="M465.10 253.31L472.50 253.31L468.80 259.51Z" fill="#008000"/><path d="M470.90 252.03L478.30 252.03L474.60 258.23Z" fill="#008000"/><path d="M477.80 250.51L485.20 250.51L481.50 256.71Z" fill="#008000"/><path d="M485.60 248.80L493.00 248.80L489.30 255.00Z" fill="#008000"/><path d="M494.73 246.79L502.13 246.79L498.43 252.99Z" fill="#008000"/><path d="M505.40 244.43L512.80 244.43L509.10 250.63Z" fill="#008000"/><polyline fill="none" stroke="#ff00ff" stroke-width="0.33" points="424.80,245.70 425.52,245.53 428.77,244.76 432.27,243.94 436.02,243.05 440.06,242.10 444.41,241.08 449.08,239.98 454.10,238.80 459.50,237.52 465.10,236.20 470.70,234.88 476.10,233.61 482.70,232.06 489.30,230.50 497.02,228.68 506.06,226.55"/><path d="M420.80 245.70L424.80 241.70L428.80 245.70L424.80 249.70Z" fill="#ff00ff"/><path d="M421.52 245.53L425.52 241.53L429.52 245.53L425.52 249.53Z" fill="#ff00ff"/><path d="M424.77 244.76L428.77 240.76L432.77 244.76L428.77 248.76Z" fill="#ff00ff"/><path d="M428.27 243.94L432.27 239.94L436.27 243.94L432.27 247.94Z" fill="#ff00ff"/><path d="M432.02 243.05L436.02 239.05L440.02 243.05L436.02 247.05Z" fill="#ff00ff"/><path d="M436.06 242.10L440.06 238.10L444.06 242.10L440.06 246.10Z" fill="#ff00ff"/><path d="M440.41 241.08L444.41 237.08L448.41 241.08L444.41 245.08Z" fill="#ff00ff"/><path d="M445.08 239.98L449.08 235.98L453.08 239.98L449.08 243.98Z" fill="#ff00ff"/><path d="M450.10 238.80L454.10 234.80L458.10 238.80L454.10 242.80Z" fill="#ff00ff"/><path d="M455.50 237.52L459.50 233.52L463.50 237.52L459.50 241.52Z" fill="#ff00ff"/><path d="M461.10 236.20L465.10 232.20L469.10 236.20L465.10 240.20Z" fill="#ff00ff"/><path d="M466.70 234.88L470.70 230.88L474.70 234.88L470.70 238.88Z" fill="#ff00ff"/><path d="M472.10 233.61L476.10 229.61L480.10 233.61L476.10 237.61Z" fill="#ff00ff"/><path d="M478.70 232.06L482.70 228.06L486.70 232.06L482.70 236.06Z" fill="#ff00ff"/><path d="M485.30 230.50L489.30 226.50L493.30 230.50L489.30 234.50Z" fill="#ff00ff"/><path d="M493.02 228.68L497.02 224.68L501.02 228.68L497.02 232.68Z" fill="#ff00ff"/><path d="M502.06 226.55L506.06 222.55L510.06 226.55L506.06 230.55Z" fill="#ff00ff"/><text x="364.9" y="202.3" class="lb" style="font-size:14.3px">SCI</text><rect x="358.6" y="384.8" width="228.39999999999998" height="174.99999999999994" fill="none" stroke="#000" stroke-width="1.3"/><path d="M358.60 559.8v2.2M358.60 384.8v2.2" stroke="#000" stroke-width="1.1"/><path d="M391.23 559.8v3.8M391.23 384.8v3.8" stroke="#000" stroke-width="1.1"/><text x="391.23" y="574.0" text-anchor="middle" class="tk">-1.0</text><path d="M423.86 559.8v2.2M423.86 384.8v2.2" stroke="#000" stroke-width="1.1"/><path d="M456.49 559.8v3.8M456.49 384.8v3.8" stroke="#000" stroke-width="1.1"/><text x="456.49" y="574.0" text-anchor="middle" class="tk">-0.5</text><path d="M489.11 559.8v2.2M489.11 384.8v2.2" stroke="#000" stroke-width="1.1"/><path d="M521.74 559.8v3.8M521.74 384.8v3.8" stroke="#000" stroke-width="1.1"/><text x="521.74" y="574.0" text-anchor="middle" class="tk">0.0</text><path d="M554.37 559.8v2.2M554.37 384.8v2.2" stroke="#000" stroke-width="1.1"/><path d="M587.00 559.8v3.8M587.00 384.8v3.8" stroke="#000" stroke-width="1.1"/><text x="587.00" y="574.0" text-anchor="middle" class="tk">0.5</text><path d="M358.6 549.51h-3.6" stroke="#000" stroke-width="1.1"/><path d="M587.0 549.51h-3.6" stroke="#000" stroke-width="1.1"/><text x="352.3" y="553.01" text-anchor="end" class="tk">-1</text><path d="M358.6 528.92h-2.0" stroke="#000" stroke-width="1.1"/><path d="M587.0 528.92h-2.0" stroke="#000" stroke-width="1.1"/><path d="M358.6 508.33h-3.6" stroke="#000" stroke-width="1.1"/><path d="M587.0 508.33h-3.6" stroke="#000" stroke-width="1.1"/><text x="352.3" y="511.83" text-anchor="end" class="tk">0</text><path d="M358.6 487.74h-2.0" stroke="#000" stroke-width="1.1"/><path d="M587.0 487.74h-2.0" stroke="#000" stroke-width="1.1"/><path d="M358.6 467.15h-3.6" stroke="#000" stroke-width="1.1"/><path d="M587.0 467.15h-3.6" stroke="#000" stroke-width="1.1"/><text x="352.3" y="470.65" text-anchor="end" class="tk">1</text><path d="M358.6 446.56h-2.0" stroke="#000" stroke-width="1.1"/><path d="M587.0 446.56h-2.0" stroke="#000" stroke-width="1.1"/><path d="M358.6 425.98h-3.6" stroke="#000" stroke-width="1.1"/><path d="M587.0 425.98h-3.6" stroke="#000" stroke-width="1.1"/><text x="352.3" y="429.48" text-anchor="end" class="tk">2</text><path d="M358.6 405.39h-2.0" stroke="#000" stroke-width="1.1"/><path d="M587.0 405.39h-2.0" stroke="#000" stroke-width="1.1"/><path d="M358.6 384.80h-3.6" stroke="#000" stroke-width="1.1"/><path d="M587.0 384.80h-3.6" stroke="#000" stroke-width="1.1"/><text x="352.3" y="388.30" text-anchor="end" class="tk">3</text><polyline fill="none" stroke="#000000" stroke-width="0.33" points="444.30,533.70 446.22,533.12 449.02,532.27 451.82,531.43 454.62,530.59 457.42,529.74 460.22,528.90 463.02,528.05 465.82,527.21 468.62,526.36 471.42,525.52 474.22,524.67 477.02,523.83 480.00,522.93 483.20,521.96 486.70,520.91 490.50,519.76 494.95,518.42 500.15,516.85"/><rect x="441.60" y="531.00" width="5.4" height="5.4" fill="#000000"/><rect x="443.52" y="530.42" width="5.4" height="5.4" fill="#000000"/><rect x="446.32" y="529.57" width="5.4" height="5.4" fill="#000000"/><rect x="449.12" y="528.73" width="5.4" height="5.4" fill="#000000"/><rect x="451.92" y="527.88" width="5.4" height="5.4" fill="#000000"/><rect x="454.72" y="527.04" width="5.4" height="5.4" fill="#000000"/><rect x="457.52" y="526.20" width="5.4" height="5.4" fill="#000000"/><rect x="460.32" y="525.35" width="5.4" height="5.4" fill="#000000"/><rect x="463.12" y="524.51" width="5.4" height="5.4" fill="#000000"/><rect x="465.92" y="523.66" width="5.4" height="5.4" fill="#000000"/><rect x="468.72" y="522.82" width="5.4" height="5.4" fill="#000000"/><rect x="471.52" y="521.97" width="5.4" height="5.4" fill="#000000"/><rect x="474.32" y="521.13" width="5.4" height="5.4" fill="#000000"/><rect x="477.30" y="520.23" width="5.4" height="5.4" fill="#000000"/><rect x="480.50" y="519.26" width="5.4" height="5.4" fill="#000000"/><rect x="484.00" y="518.21" width="5.4" height="5.4" fill="#000000"/><rect x="487.80" y="517.06" width="5.4" height="5.4" fill="#000000"/><rect x="492.25" y="515.72" width="5.4" height="5.4" fill="#000000"/><rect x="497.45" y="514.15" width="5.4" height="5.4" fill="#000000"/><polyline fill="none" stroke="#ff0000" stroke-width="0.33" points="442.40,513.60 443.44,513.30 446.24,512.48 449.04,511.66 451.84,510.84 454.64,510.03 457.44,509.21 460.24,508.39 463.04,507.57 465.84,506.76 468.64,505.94 471.54,505.09 474.65,504.18 478.00,503.21 481.60,502.16 485.60,500.99 490.00,499.70 495.15,498.20 501.17,496.44"/><circle cx="442.40" cy="513.60" r="3.15" fill="#ff0000"/><circle cx="443.44" cy="513.30" r="3.15" fill="#ff0000"/><circle cx="446.24" cy="512.48" r="3.15" fill="#ff0000"/><circle cx="449.04" cy="511.66" r="3.15" fill="#ff0000"/><circle cx="451.84" cy="510.84" r="3.15" fill="#ff0000"/><circle cx="454.64" cy="510.03" r="3.15" fill="#ff0000"/><circle cx="457.44" cy="509.21" r="3.15" fill="#ff0000"/><circle cx="460.24" cy="508.39" r="3.15" fill="#ff0000"/><circle cx="463.04" cy="507.57" r="3.15" fill="#ff0000"/><circle cx="465.84" cy="506.76" r="3.15" fill="#ff0000"/><circle cx="468.64" cy="505.94" r="3.15" fill="#ff0000"/><circle cx="471.54" cy="505.09" r="3.15" fill="#ff0000"/><circle cx="474.65" cy="504.18" r="3.15" fill="#ff0000"/><circle cx="478.00" cy="503.21" r="3.15" fill="#ff0000"/><circle cx="481.60" cy="502.16" r="3.15" fill="#ff0000"/><circle cx="485.60" cy="500.99" r="3.15" fill="#ff0000"/><circle cx="490.00" cy="499.70" r="3.15" fill="#ff0000"/><circle cx="495.15" cy="498.20" r="3.15" fill="#ff0000"/><circle cx="501.17" cy="496.44" r="3.15" fill="#ff0000"/><polyline fill="none" stroke="#0000ff" stroke-width="0.33" points="430.90,496.20 433.27,495.50 436.07,494.67 438.98,493.81 442.11,492.89 445.48,491.90 449.09,490.83 452.98,489.68 457.17,488.45 461.66,487.12 466.50,485.69 471.70,484.15 477.30,482.50 482.90,480.85 489.50,478.90 497.22,476.62 506.26,473.95"/><path d="M427.20 498.80L434.60 498.80L430.90 492.60Z" fill="#0000ff"/><path d="M429.57 498.10L436.97 498.10L433.27 491.90Z" fill="#0000ff"/><path d="M432.37 497.28L439.77 497.28L436.07 491.08Z" fill="#0000ff"/><path d="M435.28 496.42L442.68 496.42L438.98 490.22Z" fill="#0000ff"/><path d="M438.41 495.49L445.81 495.49L442.11 489.29Z" fill="#0000ff"/><path d="M441.78 494.50L449.18 494.50L445.48 488.30Z" fill="#0000ff"/><path d="M445.39 493.43L452.79 493.43L449.09 487.23Z" fill="#0000ff"/><path d="M449.28 492.28L456.68 492.28L452.98 486.08Z" fill="#0000ff"/><path d="M453.47 491.05L460.87 491.05L457.17 484.85Z" fill="#0000ff"/><path d="M457.96 489.72L465.36 489.72L461.66 483.52Z" fill="#0000ff"/><path d="M462.80 488.29L470.20 488.29L466.50 482.09Z" fill="#0000ff"/><path d="M468.00 486.76L475.40 486.76L471.70 480.56Z" fill="#0000ff"/><path d="M473.60 485.11L481.00 485.11L477.30 478.91Z" fill="#0000ff"/><path d="M479.20 483.45L486.60 483.45L482.90 477.25Z" fill="#0000ff"/><path d="M485.80 481.50L493.20 481.50L489.50 475.30Z" fill="#0000ff"/><path d="M493.52 479.22L500.92 479.22L497.22 473.02Z" fill="#0000ff"/><path d="M502.56 476.56L509.96 476.56L506.26 470.36Z" fill="#0000ff"/><polyline fill="none" stroke="#008080" stroke-width="0.33" points="413.80,481.70 415.34,481.23 418.77,480.17 422.45,479.04 426.42,477.81 430.68,476.50 435.27,475.09 440.20,473.57 445.50,471.94 451.20,470.18 457.00,468.40 463.40,466.43 470.00,464.40 477.30,462.15 484.60,459.90 493.14,457.27 503.13,454.19"/><path d="M410.10 479.10L417.50 479.10L413.80 485.30Z" fill="#008080"/><path d="M411.64 478.62L419.04 478.62L415.34 484.82Z" fill="#008080"/><path d="M415.07 477.57L422.47 477.57L418.77 483.77Z" fill="#008080"/><path d="M418.75 476.43L426.15 476.43L422.45 482.63Z" fill="#008080"/><path d="M422.72 475.21L430.12 475.21L426.42 481.41Z" fill="#008080"/><path d="M426.98 473.90L434.38 473.90L430.68 480.10Z" fill="#008080"/><path d="M431.57 472.49L438.97 472.49L435.27 478.69Z" fill="#008080"/><path d="M436.50 470.97L443.90 470.97L440.20 477.17Z" fill="#008080"/><path d="M441.80 469.34L449.20 469.34L445.50 475.54Z" fill="#008080"/><path d="M447.50 467.58L454.90 467.58L451.20 473.78Z" fill="#008080"/><path d="M453.30 465.79L460.70 465.79L457.00 471.99Z" fill="#008080"/><path d="M459.70 463.82L467.10 463.82L463.40 470.02Z" fill="#008080"/><path d="M466.30 461.79L473.70 461.79L470.00 467.99Z" fill="#008080"/><path d="M473.60 459.54L481.00 459.54L477.30 465.74Z" fill="#008080"/><path d="M480.90 457.30L488.30 457.30L484.60 463.50Z" fill="#008080"/><path d="M489.44 454.67L496.84 454.67L493.14 460.87Z" fill="#008080"/><path d="M499.43 451.59L506.83 451.59L503.13 457.79Z" fill="#008080"/><polyline fill="none" stroke="#ff00ff" stroke-width="0.33" points="381.30,471.40 382.72,470.96 386.39,469.84 390.34,468.63 394.58,467.33 399.14,465.94 404.05,464.43 409.33,462.82 415.00,461.08 421.10,459.21 427.20,457.34 434.00,455.26 441.90,452.84 449.70,450.45 458.50,447.76 468.00,444.85 477.30,442.00 488.60,438.54 501.82,434.49"/><path d="M383.90 467.70L383.90 475.10L377.70 471.40Z" fill="#ff00ff"/><path d="M385.32 467.26L385.32 474.66L379.12 470.96Z" fill="#ff00ff"/><path d="M389.00 466.14L389.00 473.54L382.80 469.84Z" fill="#ff00ff"/><path d="M392.94 464.93L392.94 472.33L386.74 468.63Z" fill="#ff00ff"/><path d="M397.19 463.63L397.19 471.03L390.99 467.33Z" fill="#ff00ff"/><path d="M401.75 462.24L401.75 469.64L395.55 465.94Z" fill="#ff00ff"/><path d="M406.66 460.73L406.66 468.13L400.46 464.43Z" fill="#ff00ff"/><path d="M411.93 459.12L411.93 466.52L405.73 462.82Z" fill="#ff00ff"/><path d="M417.60 457.38L417.60 464.78L411.40 461.08Z" fill="#ff00ff"/><path d="M423.70 455.51L423.70 462.91L417.50 459.21Z" fill="#ff00ff"/><path d="M429.80 453.64L429.80 461.04L423.60 457.34Z" fill="#ff00ff"/><path d="M436.60 451.56L436.60 458.96L430.40 455.26Z" fill="#ff00ff"/><path d="M444.50 449.14L444.50 456.54L438.30 452.84Z" fill="#ff00ff"/><path d="M452.30 446.75L452.30 454.15L446.10 450.45Z" fill="#ff00ff"/><path d="M461.10 444.06L461.10 451.46L454.90 447.76Z" fill="#ff00ff"/><path d="M470.60 441.15L470.60 448.55L464.40 444.85Z" fill="#ff00ff"/><path d="M479.90 438.30L479.90 445.70L473.70 442.00Z" fill="#ff00ff"/><path d="M491.20 434.84L491.20 442.24L485.00 438.54Z" fill="#ff00ff"/><path d="M504.43 430.79L504.43 438.19L498.23 434.49Z" fill="#ff00ff"/><path d="M514.10 533.00L479.99 425.29" stroke="#000" stroke-width="1.7" fill="none"/><path d="M478.00 419.00L483.36 426.32L480.14 425.77L477.83 428.07Z" fill="#000"/><text x="365.1" y="402.6" class="lb" style="font-size:14.5px">SCI</text><text transform="translate(63.5,274) rotate(-90) scale(1.07,1)" text-anchor="middle" class="ti">&#916;&#961;<tspan class="pa" dy="1">(</tspan><tspan class="b" dy="-1">p+&#948;p</tspan><tspan class="pa" dy="1">)</tspan></text><text transform="translate(63.5,474) rotate(-90) scale(1.07,1)" text-anchor="middle" class="ti">&#916;&#961;<tspan class="pa" dy="1">(</tspan><tspan class="b" dy="-1">p+&#948;p</tspan><tspan class="pa" dy="1">)</tspan></text><text transform="translate(193,587.6) scale(1.07,1)" text-anchor="start" class="ti">&#916;&#961;<tspan class="pa" dy="1">(</tspan><tspan class="b" dy="-1">p</tspan><tspan class="pa" dy="1">)</tspan></text><text transform="translate(452.2,588.0) scale(1.07,1)" text-anchor="start" class="ti">&#916;&#961;<tspan class="pa" dy="1">(</tspan><tspan class="b" dy="-1">p</tspan><tspan class="pa" dy="1">)</tspan></text>
</svg>
</body></html>
